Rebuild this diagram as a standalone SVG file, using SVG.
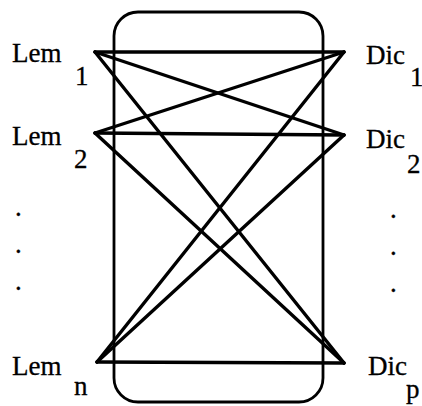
<svg xmlns="http://www.w3.org/2000/svg" width="422" height="406" viewBox="0 0 422 406">
<style>
text{font-family:"Liberation Serif","Times New Roman",serif;font-size:27px;fill:#000;stroke:#000;stroke-width:0.3}
.box{fill:none;stroke:#000;stroke-width:2.8}
.edge{stroke:#000;stroke-width:3.4;fill:none;stroke-linecap:round;stroke-linejoin:round}
</style>
<rect width="422" height="406" fill="#fff"/>
<g id="container"><rect class="box" x="114" y="12" width="209" height="390" rx="24" ry="24"/></g>
<g id="connectors">
<line class="edge" x1="95" y1="52" x2="344" y2="52"/>
<line class="edge" x1="95" y1="52" x2="344" y2="135"/>
<line class="edge" x1="95" y1="52" x2="344" y2="363"/>
<line class="edge" x1="95" y1="133" x2="344" y2="52"/>
<line class="edge" x1="95" y1="133" x2="344" y2="135"/>
<line class="edge" x1="95" y1="133" x2="344" y2="363"/>
<line class="edge" x1="97" y1="362" x2="344" y2="52"/>
<line class="edge" x1="97" y1="362" x2="344" y2="135"/>
<line class="edge" x1="97" y1="362" x2="344" y2="363"/>
</g>
<g id="lem1"><text x="12" y="62">Lem</text><text x="75" y="85">1</text></g>
<g id="lem2"><text x="12" y="145">Lem</text><text x="74" y="168">2</text></g>
<g id="lemn"><text x="12" y="375">Lem</text><text x="74" y="395">n</text></g>
<g id="dic1"><text x="366" y="64">Dic</text><text x="410" y="86">1</text></g>
<g id="dic2"><text x="366" y="148">Dic</text><text x="407" y="173">2</text></g>
<g id="dicp"><text x="368" y="375">Dic</text><text x="406" y="398">p</text></g>
<g id="dots-left"><text x="15" y="216">.</text><text x="15" y="253">.</text><text x="15" y="290">.</text></g>
<g id="dots-right"><text x="390" y="218">.</text><text x="390" y="255">.</text><text x="390" y="292">.</text></g>
</svg>
